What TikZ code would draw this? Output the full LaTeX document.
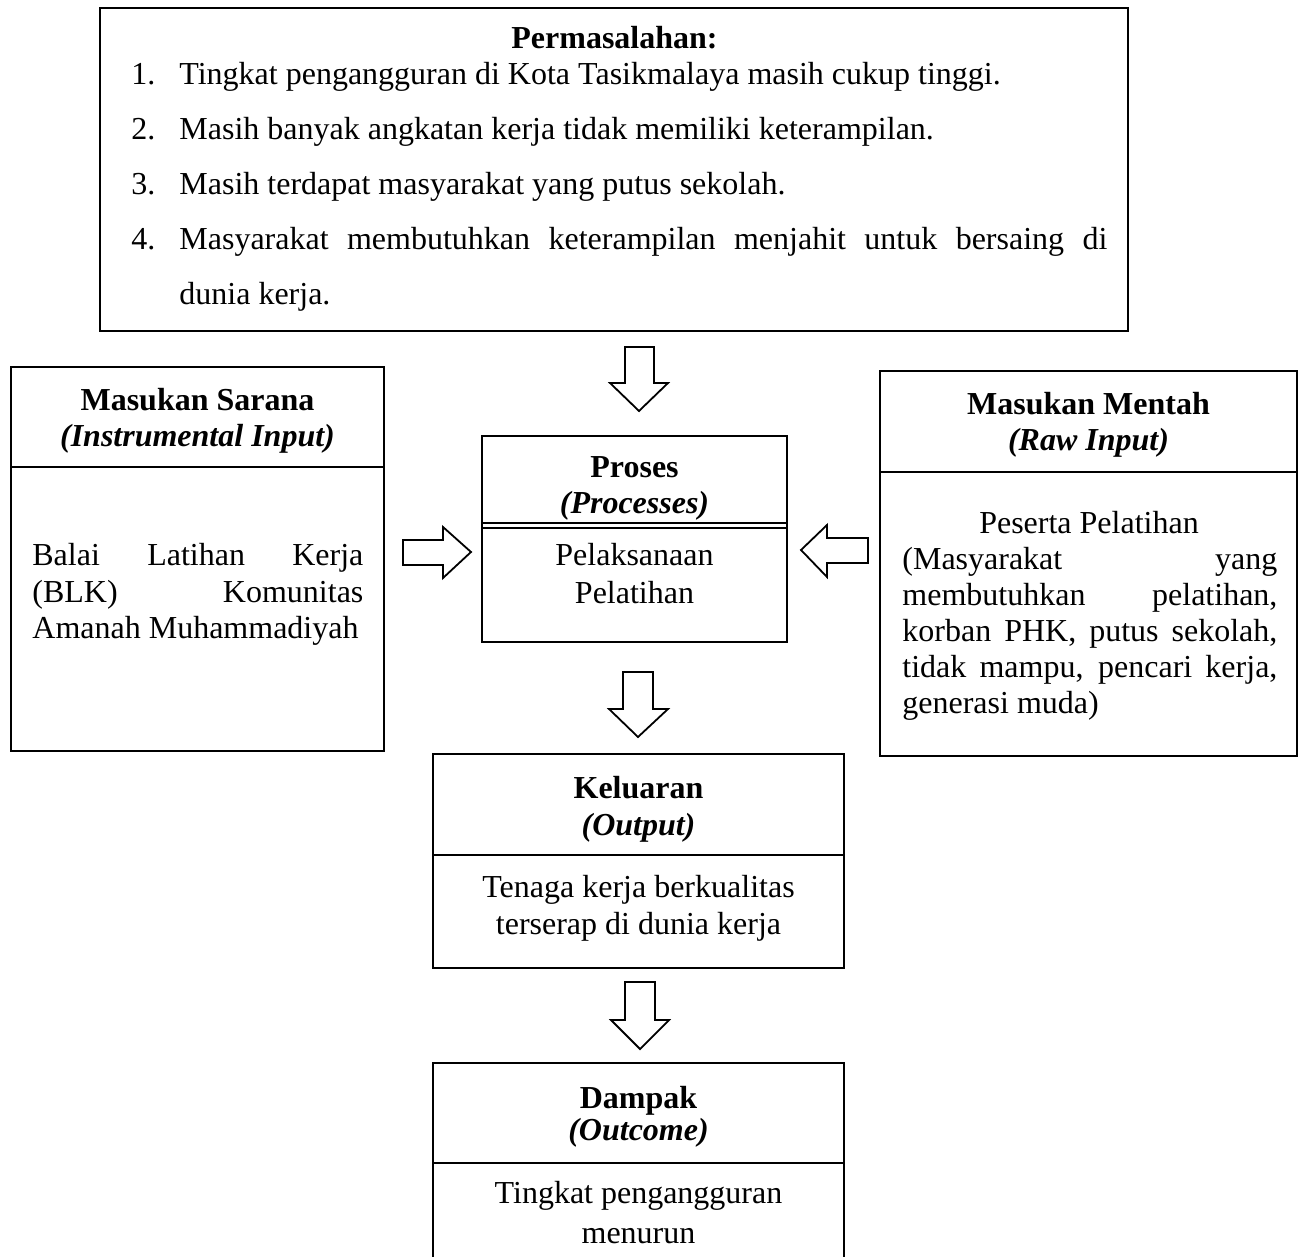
\documentclass[tikz,border=0pt]{standalone}
\usepackage{fontspec}
\setmainfont{Liberation Serif}
\begin{document}
\begin{tikzpicture}[x=0.5pt,y=-0.5pt,
  txt/.style={anchor=base,inner sep=0pt,font=\fontsize{16}{19}\selectfont},
  txtl/.style={txt,anchor=base west},
  hd/.style={txt,font=\fontsize{16}{19}\selectfont\bfseries},
  hdi/.style={txt,font=\fontsize{16}{19}\selectfont\bfseries\itshape},
  box/.style={draw,line width=0.9pt},
  barrow/.style={draw,line width=0.9pt,fill=white,line join=miter}]
\useasboundingbox (0,0) rectangle (1304,1256);
\clip (0,0) rectangle (1304,1256);

% ---------- Permasalahan ----------
\draw[box] (100,8) rectangle (1128,331);
\node[hd] (ptitle) at (614.5,49) {Permasalahan:};
\node[txtl] (n1) at (131,85) {1.};
\node[txtl] (n2) at (131,140) {2.};
\node[txtl] (n3) at (131,195) {3.};
\node[txtl] (n4) at (131,250) {4.};
\node[txtl] (i1) at (179,85) {Tingkat pengangguran di Kota Tasikmalaya masih cukup tinggi.};
\node[txtl] (i2) at (179,140) {Masih banyak angkatan kerja tidak memiliki keterampilan.};
\node[txtl] (i3) at (179,195) {Masih terdapat masyarakat yang putus sekolah.};
\node[txtl] (i4) at (179,250) {\makebox[464pt][s]{Masyarakat membutuhkan keterampilan menjahit untuk bersaing di}};
\node[txtl] (i5) at (179,305) {dunia kerja.};

% ---------- Masukan Sarana ----------
\draw[box] (11,367) rectangle (384,751);
\draw[box] (11,467) -- (384,467);
\node[hd] (msh) at (197.5,410) {Masukan Sarana};
\node[hdi] (msh2) at (197.5,446) {(Instrumental Input)};
\node[txtl] (ms1) at (32,565) {\makebox[165.5pt][s]{Balai Latihan Kerja}};
\node[txtl] (ms2) at (32,602) {\makebox[165.5pt][s]{(BLK) Komunitas}};
\node[txtl] (ms3) at (32,638) {Amanah Muhammadiyah};

% ---------- Masukan Mentah ----------
\draw[box] (880,371) rectangle (1297,756);
\draw[box] (880,472) -- (1297,472);
\node[hd] (mmh) at (1088.5,415) {Masukan Mentah};
\node[hdi] (mmh2) at (1088.5,450) {(Raw Input)};
\node[txt] (mm0) at (1089,533) {Peserta Pelatihan};
\node[txtl] (mm1) at (902,569) {\makebox[187.5pt][s]{(Masyarakat yang}};
\node[txtl] (mm2) at (902,605) {\makebox[187.5pt][s]{membutuhkan pelatihan,}};
\node[txtl] (mm3) at (902,641) {\makebox[187.5pt][s]{korban PHK, putus sekolah,}};
\node[txtl] (mm4) at (902,677) {\makebox[187.5pt][s]{tidak mampu, pencari kerja,}};
\node[txtl] (mm5) at (902,713) {generasi muda)};

% ---------- Proses ----------
\draw[box] (482,436) rectangle (787,642);
\draw[box] (482,523) -- (787,523);
\draw[box] (482,528) -- (787,528);
\node[hd] (prh) at (634.5,477) {Proses};
\node[hdi] (prh2) at (634.5,513) {(Processes)};
\node[txt] (pr1) at (634.5,565) {Pelaksanaan};
\node[txt] (pr2) at (634.5,603) {Pelatihan};

% ---------- Keluaran ----------
\draw[box] (433,754) rectangle (844,968);
\draw[box] (433,855) -- (844,855);
\node[hd] (kh) at (638.5,798) {Keluaran};
\node[hdi] (kh2) at (638.5,835) {(Output)};
\node[txt] (k1) at (638.5,897) {Tenaga kerja berkualitas};
\node[txt] (k2) at (638.5,934) {terserap di dunia kerja};

% ---------- Dampak ----------
\draw[box] (433,1270) -- (433,1063) -- (844,1063) -- (844,1270);
\draw[box] (433,1163) -- (844,1163);
\node[hd] (dh) at (638.5,1108) {Dampak};
\node[hdi] (dh2) at (638.5,1140) {(Outcome)};
\node[txt] (d1) at (638.5,1203) {Tingkat pengangguran};
\node[txt] (d2) at (638.5,1243) {menurun};

% ---------- block arrows ----------
\draw[barrow] (625,347) -- (654,347) -- (654,383) -- (668,383) -- (639,411) -- (610,383) -- (625,383) -- cycle;
\draw[barrow] (403,540) -- (443,540) -- (443,527) -- (471,552) -- (443,578) -- (443,565) -- (403,565) -- cycle;
\draw[barrow] (868,538) -- (827,538) -- (827,525) -- (801,550) -- (827,577) -- (827,563) -- (868,563) -- cycle;
\draw[barrow] (623,672) -- (653,672) -- (653,709) -- (668,709) -- (638,737) -- (609,709) -- (623,709) -- cycle;
\draw[barrow] (625,982) -- (655,982) -- (655,1020) -- (669,1020) -- (640,1049) -- (611,1020) -- (625,1020) -- cycle;
\end{tikzpicture}
\end{document}
